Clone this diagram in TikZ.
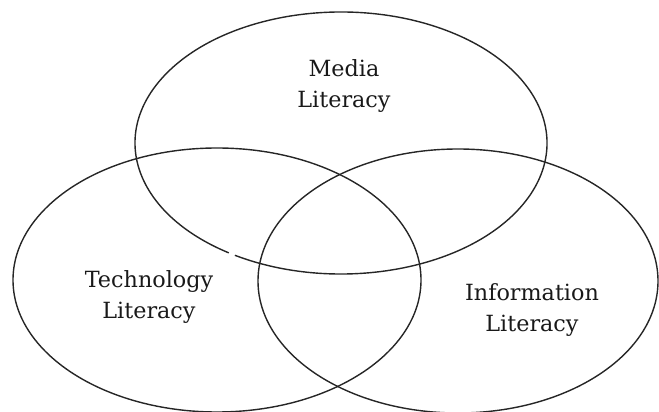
\documentclass[tikz,border=0pt]{standalone}
\usepackage{fontspec}
\setmainfont{DejaVu Serif}
\usetikzlibrary{calc}
\begin{document}
\begin{tikzpicture}[x=1pt,y=1pt,
  ring/.style={line width=1.4pt, draw=black!85},
  lbl/.style={font=\fontsize{22.3}{31}\selectfont, align=center, text=black!90}]
\useasboundingbox (0,0) rectangle (659,412);
% top ellipse (with small gap as in reference)
\coordinate (tc) at (341,269);
\draw[ring] ($(tc)+({206*cos(239)},{131*sin(239)})$) arc[start angle=239, end angle=597, x radius=206, y radius=131];
\draw[ring] (217,132) ellipse[x radius=204, y radius=132];
\draw[ring] (458,131) ellipse[x radius=200, y radius=132];
\node[lbl] (media) at (344,326) {Media\\Literacy};
\node[lbl] (tech) at (149,115) {Technology\\Literacy};
\node[lbl] (info) at (532,102) {Information\\Literacy};
\end{tikzpicture}
\end{document}
